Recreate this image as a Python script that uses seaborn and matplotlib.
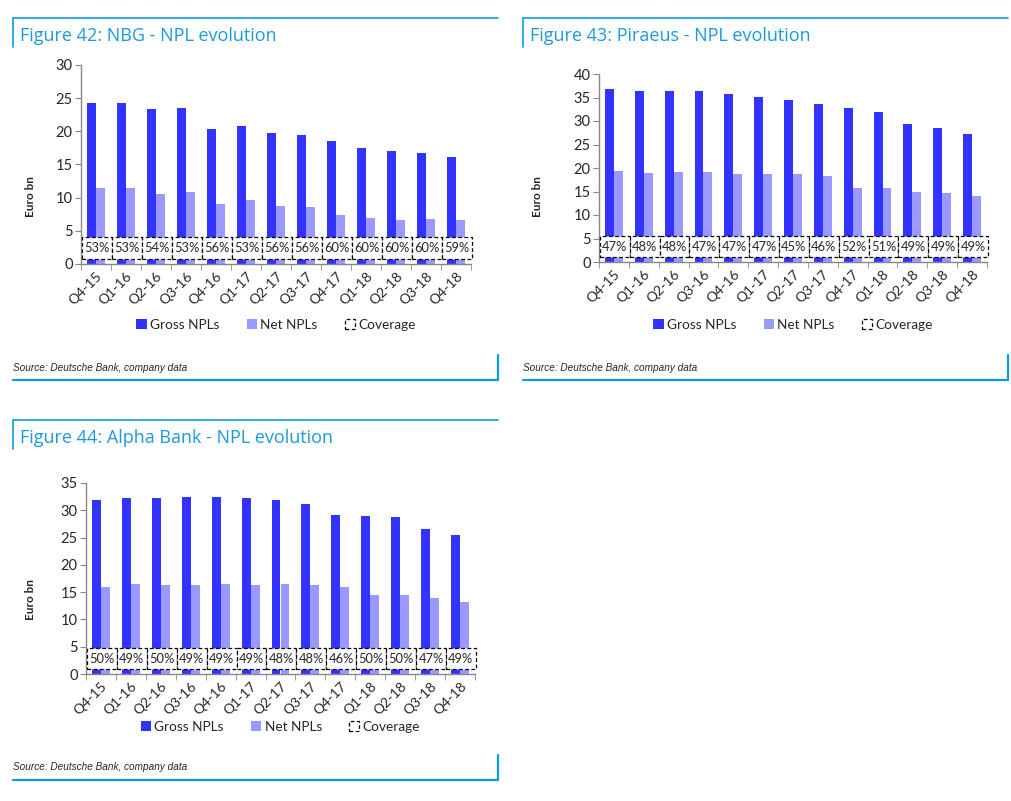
import numpy as np
import pandas as pd
import matplotlib
matplotlib.use("Agg")
import matplotlib.pyplot as plt
import seaborn as sb
from matplotlib.patches import Patch, Rectangle
from matplotlib.lines import Line2D
import matplotlib.transforms as mtransforms

quarters = ['Q4-15', 'Q1-16', 'Q2-16', 'Q3-16', 'Q4-16', 'Q1-17', 'Q2-17',
            'Q3-17', 'Q4-17', 'Q1-18', 'Q2-18', 'Q3-18', 'Q4-18']

# NBG
nbg_gross = [24.2, 24.3, 23.4, 23.5, 20.4, 20.8, 19.7, 19.5, 18.6, 17.5, 17.0, 16.8, 16.2]
nbg_net = [11.4, 11.4, 10.6, 10.9, 9.0, 9.6, 8.8, 8.6, 7.4, 7.0, 6.7, 6.8, 6.6]
nbg_cov = [53, 53, 54, 53, 56, 53, 56, 56, 60, 60, 60, 60, 59]

# Piraeus
pir_gross = [36.8, 36.4, 36.4, 36.3, 35.7, 35.1, 34.4, 33.7, 32.8, 32.0, 29.3, 28.5, 27.3]
pir_net = [19.3, 19.0, 19.1, 19.1, 18.8, 18.7, 18.7, 18.3, 15.7, 15.7, 15.0, 14.6, 14.0]
pir_cov = [47, 48, 48, 47, 47, 47, 45, 46, 52, 51, 49, 49, 49]

# Alpha Bank
alpha_gross = [31.8, 32.2, 32.3, 32.4, 32.4, 32.3, 31.8, 31.2, 29.2, 28.9, 28.8, 26.6, 25.5]
alpha_net = [16.0, 16.5, 16.3, 16.4, 16.5, 16.4, 16.5, 16.3, 15.9, 14.5, 14.5, 13.9, 13.2]
alpha_cov = [50, 49, 50, 49, 49, 49, 48, 48, 46, 50, 50, 47, 49]

GROSS_C = '#3333ff'
NET_C = '#9999ff'
BLUE = '#0a9ddc'
TITLE_C = '#1a9bd8'
W, H = 1012, 801

sb.set_style('white')
plt.rcParams['font.family'] = ['Lato', 'DejaVu Sans']

fig = plt.figure(figsize=(W / 100, H / 100), dpi=100)


def fx(x):
    return x / W


def fy(y):
    return 1 - y / H


def panel(box, axbox, title, gross, net, cov, ymax, ystep, lab_x, lab_y, leg_y, src_y):
    x0, y0, x1, y1 = box
    # panel frame lines
    fig.add_artist(Line2D([fx(x0), fx(x1)], [fy(y0), fy(y0)], color=BLUE, lw=1.2))
    fig.add_artist(Line2D([fx(x0), fx(x0)], [fy(y0), fy(y0 + 29)], color=BLUE, lw=1.2))
    fig.add_artist(Line2D([fx(x0), fx(x1)], [fy(y1), fy(y1)], color=BLUE, lw=1.6))
    fig.add_artist(Line2D([fx(x1), fx(x1)], [fy(y1), fy(y1 - 25)], color=BLUE, lw=1.6))
    fig.text(fx(x0 + 7), fy(y0 + 18), title, color=TITLE_C, fontsize=13,
             family=['Open Sans', 'DejaVu Sans'], va='center', ha='left')
    fig.text(fx(x0), fy(src_y), 'Source: Deutsche Bank, company data', fontsize=7.2,
             style='italic', family=['Liberation Sans', 'DejaVu Sans'], va='center', ha='left')

    l, t, r, b = axbox
    ax = fig.add_axes([fx(l), fy(b), fx(r) - fx(l), fy(t) - fy(b)])
    df = pd.DataFrame({'quarter': quarters * 2,
                       'value': gross + net,
                       'series': ['Gross NPLs'] * len(quarters) + ['Net NPLs'] * len(quarters)})
    sb.barplot(data=df, x='quarter', y='value', hue='series', palette=[GROSS_C, NET_C],
               saturation=1, width=0.6, ax=ax, legend=False, edgecolor='none')
    ax.set_ylim(0, ymax)
    ax.set_xlim(-0.5, len(quarters) - 0.5)
    ax.set_yticks(np.arange(0, ymax + 0.1, ystep))
    ax.set_xlabel('')
    ax.set_ylabel('Euro bn', fontsize=8.5, fontweight='bold')
    ax.yaxis.set_label_coords(lab_x, lab_y)
    for s in ['top', 'right']:
        ax.spines[s].set_visible(False)
    for s in ['left', 'bottom']:
        ax.spines[s].set_color('#888888')
        ax.spines[s].set_linewidth(1)
    ax.tick_params(axis='y', which='major', length=4, color='#888888', labelsize=10.5, pad=2, left=True)
    ax.set_xticks(np.arange(-0.5, len(quarters), 1), minor=True)
    ax.tick_params(axis='x', which='minor', length=4, color='#888888', bottom=True)
    ax.tick_params(axis='x', which='major', length=0, labelsize=10, pad=4)
    plt.setp(ax.get_xticklabels(), rotation=45, ha='right', rotation_mode='anchor')

    trans = mtransforms.blended_transform_factory(ax.transData, ax.transAxes)
    for i, c in enumerate(cov):
        ax.add_patch(Rectangle((i - 0.47, 0.025), 1.0, 0.113, transform=trans,
                               facecolor='white', edgecolor='black', lw=0.9,
                               linestyle=(0, (3, 2)), zorder=5, clip_on=False))
        ax.text(i + 0.03, 0.08, f'{c}%', transform=trans, ha='center', va='center',
                fontsize=9.3, zorder=6)

    handles = [Patch(facecolor=GROSS_C, edgecolor='none', label='Gross NPLs'),
               Patch(facecolor=NET_C, edgecolor='none', label='Net NPLs'),
               Patch(facecolor='white', edgecolor='black', linestyle=(0, (3, 2)), lw=0.9,
                     label='Coverage')]
    fig.legend(handles=handles, loc='center', bbox_to_anchor=(fx((l + r) / 2), fy(leg_y)),
               ncol=3, frameon=False, fontsize=9.8, handlelength=0.75, handleheight=0.75,
               handletextpad=0.25, columnspacing=2.0)
    return ax


panel((13, 18, 498, 380), (81, 65, 471, 264), 'Figure 42: NBG - NPL evolution',
      nbg_gross, nbg_net, nbg_cov, 30, 5, -0.115, 0.34, 325, 368)
panel((523, 18, 1008, 380), (599, 74, 987, 262), 'Figure 43: Piraeus - NPL evolution',
      pir_gross, pir_net, pir_cov, 40, 5, -0.144, 0.35, 325, 368)
panel((13, 420, 498, 780), (86, 483, 475, 674), 'Figure 44: Alpha Bank - NPL evolution',
      alpha_gross, alpha_net, alpha_cov, 35, 5, -0.129, 0.39, 727, 767)

fig.savefig('out.png', dpi=100)
